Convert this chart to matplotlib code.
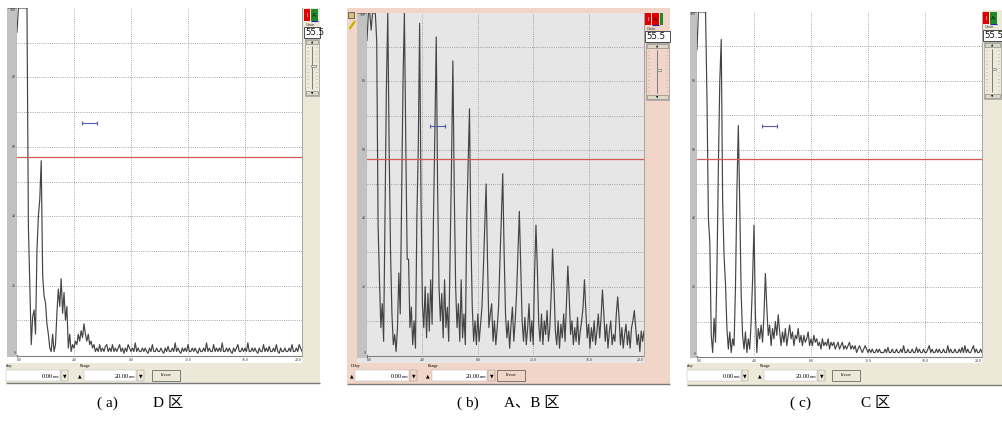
import numpy as np
import matplotlib.pyplot as plt
from matplotlib.patches import Rectangle

W, H = 1002, 422

# A-scan samples, one every 0.1 mm over the 20 mm range
depth = np.round(np.arange(0, 20.05, 0.1), 1)

# amplitude in % screen height
amp_d = [
    93, 100, 100, 100, 100, 100, 100, 100, 37, 20,
    3, 11, 13, 6, 30, 40, 45, 56, 23, 17,
    15, 9, 6, 2, 1, 6, 1, 3, 12, 19,
    14, 22, 12, 18, 10, 14, 2, 6, 1, 3,
    2, 4, 3, 6, 4, 7, 5, 9, 6, 4,
    6, 3, 4, 2, 3, 1, 2, 1, 3, 1,
    2, 1, 2.5, 3, 1, 2, 1, 3, 1, 2,
    1, 2, 3, 1, 2, 0.5, 2, 1, 3, 2,
    1, 2, 1, 3.5, 1, 2, 1, 1, 2, 1,
    2, 1, 0.5, 2, 1, 3, 1, 1, 2, 1,
    1, 2, 1, 0.5, 2, 1, 2.5, 1, 1, 2,
    1, 3.5, 1, 2, 1, 0.5, 2, 1, 2, 1,
    3, 1, 1, 2, 1, 2, 1, 0.5, 2, 1,
    1, 2, 1, 3.5, 1, 2, 1, 1, 3, 1,
    2, 1, 2, 1, 3.5, 1, 1, 2, 1, 2,
    1, 0.5, 2, 1, 2, 3, 1, 1, 2, 1,
    2, 1, 3.5, 1, 1, 2, 1, 2, 1, 0.5,
    2, 1, 1, 3, 1, 2, 1, 2.5, 1, 1,
    2, 1, 3, 1, 0.5, 2, 1, 1, 2, 1,
    1, 2, 1, 3, 1, 1, 2, 1, 3, 2,
    1,
]

amp_ab = [
    92, 100, 100, 95, 100, 100, 100, 92, 38, 22,
    8, 15, 4, 40, 78, 100, 60, 30, 12, 3,
    6, 1, 8, 24, 12, 45, 80, 100, 62, 28,
    28, 8, 14, 3, 10, 2, 40, 60, 97, 45,
    15, 8, 20, 5, 18, 7, 22, 9, 40, 65,
    93, 48, 20, 10, 18, 5, 22, 8, 14, 4,
    30, 55, 86, 48, 20, 8, 15, 4, 22, 5,
    12, 3, 39, 55, 72, 35, 14, 4, 10, 3,
    12, 4, 9, 14, 25, 38, 50, 28, 8, 12,
    15, 4, 10, 3, 8, 14, 28, 40, 53, 30,
    12, 5, 10, 2, 9, 14, 4, 10, 18, 30,
    42, 26, 10, 4, 11, 3, 8, 15, 4, 10,
    3, 24, 38, 25, 9, 4, 12, 3, 10, 6,
    13, 4, 8, 18, 31, 20, 7, 3, 10, 2,
    9, 5, 12, 4, 15, 26, 17, 6, 10, 3,
    8, 4, 11, 3, 7, 10, 14, 22, 13, 5,
    9, 2, 8, 4, 10, 3, 7, 12, 5, 11,
    19, 12, 4, 9, 2, 7, 10, 3, 6, 4,
    12, 17, 11, 3, 8, 2, 6, 9, 3, 7,
    2, 8, 10, 13, 8, 3, 6, 1, 7, 4,
    7,
]

amp_c = [
    89, 100, 100, 100, 100, 100, 100, 75, 40, 33,
    6, 1, 11, 4, 25, 55, 80, 92, 45, 29,
    21, 8, 2, 7, 1, 5, 3, 20, 48, 67,
    44, 18, 6, 2, 7, 1, 5, 2, 10, 22,
    38, 12, 1, 8, 5, 9, 4, 12, 24, 14,
    6, 9, 3, 8, 5, 10, 6, 12, 7, 3,
    7, 4, 8, 3, 6, 9, 5, 7, 3, 6,
    5, 8, 4, 6, 3, 6, 4, 5, 7, 3,
    5, 3, 6, 4, 5, 3, 4, 2, 5, 3,
    4, 3, 5, 2, 4, 3, 4, 2, 3, 4,
    2, 3, 4, 2, 3, 2, 3, 4, 2, 3,
    2, 3, 1, 2, 3, 2, 1, 2, 3, 2,
    1, 2, 1, 2, 1, 1, 2, 1, 2, 1,
    1, 1, 2, 1, 2.5, 1, 1, 2, 1, 1,
    2, 1, 1, 2, 1, 3, 1, 1, 2, 1,
    1, 2, 1, 1, 2.5, 1, 2, 1, 1, 2,
    1, 1, 2, 3, 1, 2, 1, 1, 2, 1,
    2, 1, 1, 2, 1, 1, 3, 1, 2, 1,
    1, 2, 1, 1, 2, 1, 2.5, 1, 3, 1,
    2, 1, 1, 2, 3, 1, 2, 1, 1, 2,
    1,
]

x_ticks = [0, 4, 8, 12, 16, 20]
x_tick_labels = ['0.0', '4.0', '8.0', '12.0', '16.0', '20.0']
y_ticks = [0, 20, 40, 60, 80, 100]
threshold = 57.2
gate_start, gate_end, gate_level = 4.56, 5.6, 67
gain_value = '55.5'
delay_value = '0.00'
range_value = '20.00'

fig = plt.figure(figsize=(W / 100, H / 100), dpi=100)
fig.patch.set_facecolor('white')
bg = fig.add_axes([0, 0, 1, 1])
bg.set_xlim(0, W)
bg.set_ylim(H, 0)
bg.axis('off')

SERIF = 'Liberation Serif'


def box(x0, y0, x1, y1, fc, ec='none', lw=0.6, z=1):
    r = Rectangle((x0, y0), x1 - x0, y1 - y0, facecolor=fc, edgecolor=ec, lw=lw, zorder=z)
    bg.add_patch(r)
    return r


def line(xs, ys, c='#808080', lw=0.6, z=2):
    bg.plot(xs, ys, color=c, lw=lw, zorder=z, solid_capstyle='butt')


def gain_widget(x0, x1, y0, second, third=None):
    w = x1 - x0
    box(x0, y0, x0 + 6, y0 + 12, '#E00000', z=3)
    bg.text(x0 + 3, y0 + 6.5, 'I', color='white', fontsize=4, ha='center', va='center', zorder=4)
    box(x0 + 7, y0, x0 + 14, y0 + 12, second, z=3)
    bg.text(x0 + 10.5, y0 + 6.5, 'A', color='#101010', fontsize=4.5, ha='center', va='center', zorder=4)
    line([x0 + 7, x0 + 14], [y0 + 12, y0 + 12], c='#2020c0', lw=0.8, z=4)
    if third:
        box(x0 + 15, y0, x0 + 18, y0 + 12, third, z=3)
    bg.text(x0 + 2, y0 + 15.5, 'Gain', fontsize=3, color='#333333', va='center', zorder=4)
    field = box(x0, y0 + 18, x1, y0 + 28.5, 'white', ec='#333333', lw=0.6, z=3)
    t = bg.text(x0 + 1, y0 + 23.5, gain_value, fontsize=6.2, va='center', color='#111111', zorder=4)
    t.set_clip_path(field)
    box(x0 + 1, y0 + 30, x1 - 1, y0 + 87, 'none', ec='#9a9a9a', lw=0.5, z=3)
    box(x0 + 2, y0 + 31, x1 - 2, y0 + 35, '#DCD8C8', ec='#7a7a7a', lw=0.4, z=3)
    bg.text(x0 + w / 2, y0 + 33.2, '▲', fontsize=2.2, ha='center', va='center', zorder=4)
    box(x0 + 2, y0 + 82, x1 - 2, y0 + 86, '#DCD8C8', ec='#7a7a7a', lw=0.4, z=3)
    bg.text(x0 + w / 2, y0 + 84.2, '▼', fontsize=2.2, ha='center', va='center', zorder=4)
    line([x0 + w / 2, x0 + w / 2], [y0 + 37, y0 + 80], c='#6a6a6a', lw=0.6, z=3)
    for k in range(12):
        yy = y0 + 38 + k * 3.6
        line([x0 + 3, x0 + 4.2], [yy, yy], c='#8a8a8a', lw=0.4, z=3)
        line([x1 - 4.2, x1 - 3], [yy, yy], c='#8a8a8a', lw=0.4, z=3)
    box(x0 + w / 2 - 0.5, y0 + 56, x0 + w / 2 + 4, y0 + 58, '#E8E4D4', ec='#6a6a6a', lw=0.4, z=4)


def bottom_bar(b, face):
    yt, yb = 370, 381
    if b['label']:
        bg.text(b['label'][0], 365.5, b['label'][1], fontsize=3, family=SERIF, va='center', zorder=4)
    bg.text(b['rng'], 365.5, 'Range', fontsize=3, family=SERIF, va='center', zorder=4)
    if b['up1']:
        bg.text(b['up1'], (yt + yb) / 2, '▲', fontsize=3.3, ha='center', va='center', zorder=4)
    for (f0, f1), val in ((b['f1'], delay_value), (b['f2'], range_value)):
        box(f0, yt, f1, yb, 'white', ec='#b0b0b0', lw=0.3, z=3)
        bg.text(f1 - 7.5, (yt + yb) / 2 + 0.5, val, fontsize=4.6, family=SERIF, ha='right', va='center', zorder=4)
        bg.text(f1 - 7.3, (yt + yb) / 2 + 1.2, 'mm', fontsize=3, family=SERIF, ha='left', va='center', zorder=4)
    for bx in (b['b1'], b['b2']):
        box(bx[0], yt, bx[1], yb, face, ec='#909090', lw=0.3, z=3)
        bg.text((bx[0] + bx[1]) / 2, (yt + yb) / 2, '▼', fontsize=3.3, ha='center', va='center', zorder=4)
    bg.text(b['up2'], (yt + yb) / 2, '▲', fontsize=3.3, ha='center', va='center', zorder=4)
    f0, f1 = b['frz']
    box(f0, yt, f1, yb, face, ec='#505050', lw=0.5, z=3)
    bg.text((f0 + f1) / 2, (yt + yb) / 2, 'Freeze', fontsize=3, family=SERIF, ha='center', va='center', zorder=4)


panels = [
    dict(amp=amp_d, plot=(17, 8, 302, 355), strip=(7, 8, 17, 357), face='white',
         frames=[((302, 8, 320, 363), '#ECE9D8'), ((6, 363, 320, 383), '#ECE9D8')],
         frame_color='#ECE9D8', base=(6, 320, 383),
         gain=(304, 320, 9, '#1f8a2a', None),
         bar=dict(label=(6, 'elay'), up1=None, f1=(6, 60), b1=(61, 68), up2=79.5, rng=80,
                  f2=(84, 136), b2=(137, 144), frz=(152, 180)),
         cap=(97, 183, '( a)', 'D 区')),
    dict(amp=amp_ab, plot=(367, 13, 644, 355), strip=(357, 13, 367, 358), face='#E6E6E6',
         frames=[((347, 8, 670, 384), '#F1D5C8'), ((357, 355, 644, 363), '#E6E6E6')],
         frame_color='#F1D5C8', base=(347, 670, 384),
         gain=(645, 670, 13, '#E00000', '#1f8a2a'),
         bar=dict(label=(351, 'Delay'), up1=351.5, f1=(355, 409), b1=(410, 417), up2=427.5, rng=428,
                  f2=(432, 487), b2=(488, 495), frz=(497, 525)),
         cap=(457, 560, '( b)', 'A、B 区')),
    dict(amp=amp_c, plot=(697, 12, 982, 356), strip=(690, 12, 697, 358), face='white',
         frames=[((982, 10, 1002, 363), '#ECE9D8'), ((687, 363, 1002, 385), '#ECE9D8')],
         frame_color='#ECE9D8', base=(687, 1002, 385),
         gain=(983, 1002, 12, '#1f8a2a', None),
         bar=dict(label=(687, 'elay'), up1=None, f1=(687, 741), b1=(742, 748), up2=759.5, rng=760,
                  f2=(764, 817), b2=(818, 825), frz=(832, 860)),
         cap=(790, 890, '( c)', 'C 区')),
]

for p in panels:
    for (x0, y0, x1, y1), c in p['frames']:
        box(x0, y0, x1, y1, c, z=1)
    sx0, sy0, sx1, sy1 = p['strip']
    box(sx0, sy0, sx1, sy1, '#C2C2C2', z=1)
    px0, py0, px1, py1 = p['plot']
    line([sx1, sx1], [py0, sy1], c='#707070', lw=0.8)
    line([px1 + 0.5, px1 + 0.5], [py0, py1 + 1], c='#9a9a9a', lw=0.6)
    line([sx0, px1], [py0, py0], c='#7a7a7a', lw=0.6)
    line([sx1, px1], [py1 + 1, py1 + 1], c='#808080', lw=0.8)
    bx0, bx1, by = p['base']
    line([bx0, bx1], [by, by], c='#7a7a7a', lw=1.0)
    gain_widget(*p['gain'])
    bottom_bar(p['bar'], p['frame_color'])

    ax = fig.add_axes([px0 / W, 1 - py1 / H, (px1 - px0) / W, (py1 - py0) / H])
    ax.set_facecolor(p['face'])
    ax.set_xlim(0, 20)
    ax.set_ylim(0, 100)
    ax.set_xticks([4, 8, 12, 16])
    ax.set_yticks(range(10, 100, 10))
    ax.grid(True, color='#8c8c8c', lw=0.6, ls=(0, (1, 1.6)))
    ax.tick_params(length=0, labelbottom=False, labelleft=False)
    for s in ax.spines.values():
        s.set_visible(False)
    ax.plot(depth, p['amp'], color='#444444', lw=0.85)
    ax.axhline(threshold, color='#D45A5A', lw=0.9)
    ax.plot([gate_start, gate_end], [gate_level, gate_level], color='#5a5ab4', lw=0.8,
            marker='|', ms=2.5, mew=0.8)

    for t, lab in zip(x_ticks, x_tick_labels):
        ha = 'left' if t == 0 else ('right' if t == 20 else 'center')
        ax.text(t, -0.8, lab, ha=ha, va='top', fontsize=2.8, family=SERIF,
                color='#333333', clip_on=False)
    for v in y_ticks:
        ax.text(-0.1, v, str(v), ha='right', va='top' if v == 100 else ('bottom' if v == 0 else 'center'),
                fontsize=2.8, family=SERIF, color='#333333', clip_on=False)

    c0, c1, lab, region = p['cap']
    bg.text(c0, 403, lab, fontsize=11, family=[SERIF, 'Noto Sans CJK SC'], ha='left', va='center')
    bg.text(c1, 403, region, fontsize=11, family=[SERIF, 'Noto Sans CJK SC'], ha='right', va='center')

# small tool icons at the top left of the middle screenshot
box(348.5, 12, 355.5, 19, '#6a6a6a', z=3)
box(349.5, 13, 354.5, 18, '#d8c070', z=4)
line([349.5, 355], [29, 21], c='#c8b000', lw=1.6, z=4)

fig.savefig('out.png', dpi=100)
